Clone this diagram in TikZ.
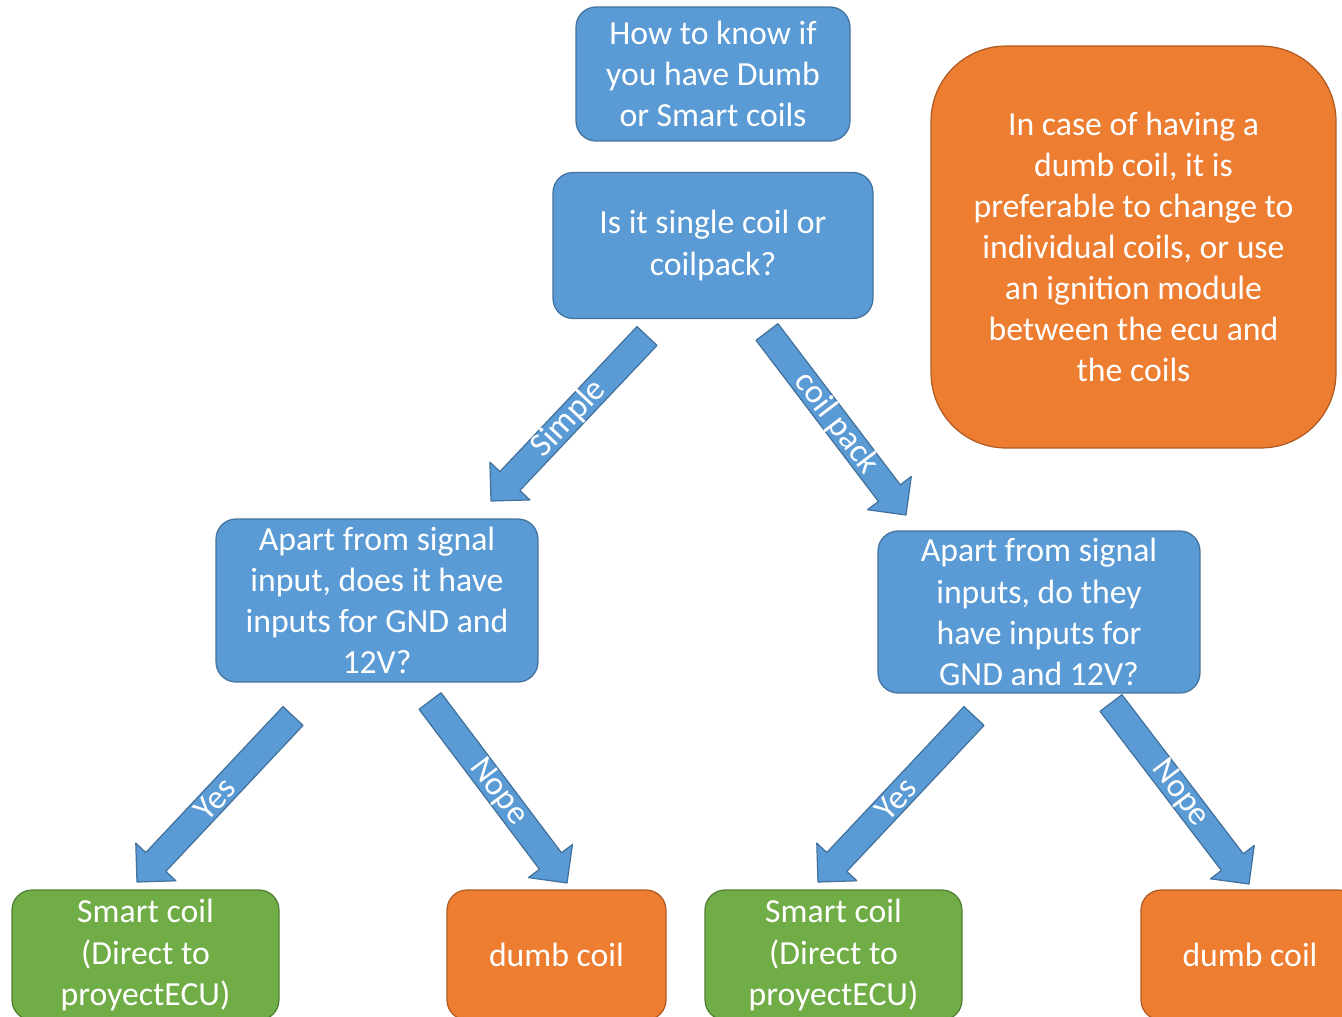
\documentclass[tikz,border=0pt]{standalone}
\usepackage{fontspec}
\setmainfont{Carlito}
\usetikzlibrary{calc}
\definecolor{boxblue}{HTML}{5B9BD5}
\definecolor{lineblue}{HTML}{41719C}
\definecolor{boxorange}{HTML}{ED7D31}
\definecolor{lineorange}{HTML}{AE5A21}
\definecolor{boxgreen}{HTML}{70AD47}
\definecolor{linegreen}{HTML}{507E32}
\begin{document}
\begin{tikzpicture}[x=0.02cm,y=-0.02cm,line join=round,
    box/.style={rectangle,rounded corners=0.4cm,line width=0.7pt,text=white,
      align=center,inner sep=0pt,font=\fontsize{19.2}{23.4}\selectfont},
    bluebox/.style={box,fill=boxblue,draw=lineblue},
    orangebox/.style={box,fill=boxorange,draw=lineorange},
    greenbox/.style={box,fill=boxgreen,draw=linegreen},
    blockarrow/.style={fill=boxblue,draw=lineblue,line width=0.7pt},
    arrowlabel/.style={text=white,font=\fontsize{19.2}{23.4}\selectfont}]
    \useasboundingbox (0,0) rectangle (1342,1017);
    \clip (0,0) rectangle (1342,1017);
    \def \sw{0.275cm}
    \def \hw{0.55cm}
    \def \hl{0.55cm}
    % questions
    \node[bluebox,minimum width=5.48cm,minimum height=2.68cm] (start) at (713,74)
        {How to know if\\you have Dumb\\or Smart coils};
    \node[bluebox,minimum width=6.4cm,minimum height=2.92cm] (kind) at (713,245.5)
        {Is it single coil or\\coilpack?};
    \node[bluebox,minimum width=6.44cm,minimum height=3.26cm] (singleq) at (377,600.5)
        {Apart from signal\\input, does it have\\inputs for GND and\\12V?};
    \node[bluebox,minimum width=6.44cm,minimum height=3.24cm] (packq) at (1039,612)
        {Apart from signal\\inputs, do they\\have inputs for\\GND and 12V?};
    % note
    \node[orangebox,rounded corners=1.5cm,minimum width=8.1cm,minimum height=8.04cm] (note) at (1133.5,247)
        {In case of having a\\dumb coil, it is\\preferable to change to\\individual coils, or use\\an ignition module\\between the ecu and\\the coils};
    % answers
    \node[greenbox,minimum width=5.34cm,minimum height=2.6cm] (smartl) at (145.5,955)
        {Smart coil\\(Direct to\\proyectECU)};
    \node[orangebox,minimum width=4.38cm,minimum height=2.6cm] (dumbl) at (556.5,955) {dumb coil};
    \node[greenbox,minimum width=5.14cm,minimum height=2.6cm] (smartr) at (833.5,955)
        {Smart coil\\(Direct to\\proyectECU)};
    \node[orangebox,minimum width=4.36cm,minimum height=2.6cm] (dumbr) at (1250,955) {dumb coil};
    % arrow ends
    \coordinate (t1) at (647,336);  \coordinate (h1) at (491,501);
    \coordinate (t2) at (767,332);  \coordinate (h2) at (906,515);
    \coordinate (t3) at (293,716);  \coordinate (h3) at (137,882);
    \coordinate (t4) at (430,701);  \coordinate (h4) at (567,883);
    \coordinate (t5) at (974,716);  \coordinate (h5) at (818,882);
    \coordinate (t6) at (1111,703); \coordinate (h6) at (1249,884);
    \foreach \s/\e/\t in {t1/h1/Simple,t2/h2/coil pack,t3/h3/Yes,t4/h4/Nope,t5/h5/Yes,t6/h6/Nope}{
        \coordinate (hb) at ($(\e)!\hl!(\s)$);
        \draw[blockarrow] ($(\s)!\sw!90:(\e)$) -- ($(hb)!\sw!90:(\e)$) -- ($(hb)!\hw!90:(\e)$)
            -- (\e) -- ($(hb)!\hw!-90:(\e)$) -- ($(hb)!\sw!-90:(\e)$) -- ($(\s)!\sw!-90:(\e)$) -- cycle;
        \path (\s) -- (\e) node[midway,sloped,arrowlabel] {\t};
    }
\end{tikzpicture}
\end{document}
